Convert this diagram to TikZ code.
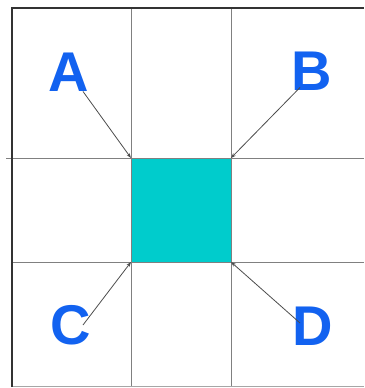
\documentclass[tikz,border=0pt]{standalone}
\usepackage{fontspec}
\setmainfont{Liberation Sans}
\usetikzlibrary{arrows.meta,calc,positioning}
\definecolor{sqcyan}{RGB}{0,204,204}
\definecolor{lblblue}{RGB}{18,98,240}
\tikzset{
  gridline/.style={draw=black!50,line width=0.9pt},
  frameline/.style={draw=black!80,line width=1.8pt},
  pointer/.style={draw=black!70,line width=0.8pt,-{Stealth[length=5pt,width=3.5pt]}},
  letter/.style={text=lblblue,font=\fontsize{56}{56}\selectfont\bfseries,inner sep=0pt}
}
\begin{document}
\begin{tikzpicture}[x=1pt,y=-1pt]
  \useasboundingbox (0,0) rectangle (364,388);
  \coordinate (TL) at (131,158);
  \coordinate (TR) at (231,158);
  \coordinate (BL) at (131,262);
  \coordinate (BR) at (231,262);

  \fill[sqcyan] (TL) rectangle (BR);

  \draw[gridline] (131,8)--(131,386);
  \draw[gridline] (231,8)--(231,386);
  \draw[gridline] (6,158)--(364,158);
  \draw[gridline] (12,262)--(364,262);
  \draw[draw=black!35,line width=1pt] (12,386)--(364,386);
  \draw[frameline] (12,387)--(12,8)--(364,8);

  \node[letter] (A) at (69,72) {A};
  \node[letter] (B) at (312,71) {B};
  \node[letter] (C) at (71,325) {C};
  \node[letter] (D) at (313,326) {D};

  \draw[pointer] ($(A.south)+(14,0)$) -- (TL);
  \draw[pointer] ($(B.south)+(-12,-3)$) -- (TR);
  \draw[pointer] ($(C.center)+(12,0)$) -- (BL);
  \draw[pointer] ($(D.center)+(-13,-3)$) -- (BR);
\end{tikzpicture}
\end{document}
